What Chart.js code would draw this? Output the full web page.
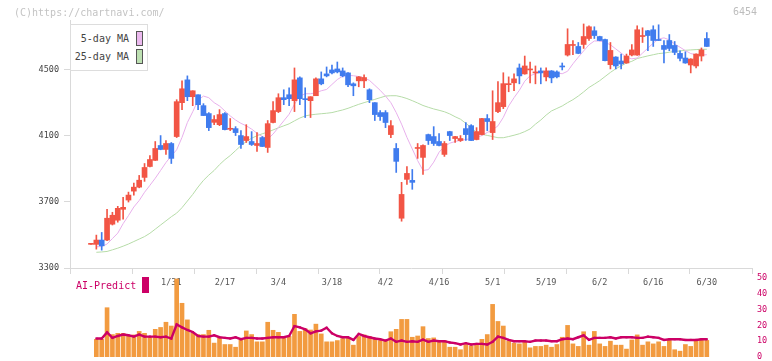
<!DOCTYPE html>
<html>
<head>
<meta charset="utf-8">
<script src="https://cdn.jsdelivr.net/npm/chart.js@4.4.1/dist/chart.umd.min.js"></script>
<style>
body{margin:0;background:#fff;width:772px;height:361px;overflow:hidden;position:relative;font-family:"DejaVu Sans Mono",monospace}
canvas{position:absolute;left:0}
#main{top:0}
#sub{top:260px}
.t{position:absolute;white-space:nowrap;font-size:10px;line-height:12px}
#legend{position:absolute;left:70px;top:24px;width:78px;height:47px;box-sizing:border-box;border:1px solid #ddd;background:#fff}
.sw{position:absolute;width:7px;box-sizing:border-box;border:1px solid #555}
</style>
</head>
<body>
<canvas id="main" width="772" height="295"></canvas>
<canvas id="sub" width="772" height="101"></canvas>

<div class="t" style="left:14px;top:7px;color:#c4c4c4">(C)https://chartnavi.com/</div>
<div class="t" style="left:733px;top:6px;color:#bdbdbd">6454</div>

<div id="legend"></div>
<div class="t" style="left:70px;top:33px;width:59px;text-align:right;color:#444">5-day MA</div>
<div class="t" style="left:70px;top:51px;width:59px;text-align:right;color:#444">25-day MA</div>
<div class="sw" style="left:136px;top:31px;height:15px;background:#ebb9ee"></div>
<div class="sw" style="left:136px;top:49px;height:15px;background:#bde0b2"></div>

<div class="t" style="left:76px;top:280px;color:#cc0066">AI-Predict</div>
<div style="position:absolute;left:142px;top:277px;width:7px;height:16px;background:#cc0066"></div>

<script>
/* DATA (one entry per trading day, 1/9 .. 6/30) */

const open=[3443,3443,3469,3469,3565,3589,3655,3711,3765,3789,
3848,3914,3951,4041,4017,4053,4095,4300,4438,4336,
4348,4282,4234,4181,4167,4234,4139,4143,4101,4071,
4065,4041,4089,4029,4180,4246,4330,4348,4312,4450,
4324,4312,4342,4444,4474,4498,4504,4492,4480,4414,
4432,4432,4378,4300,4240,4240,4107,4023,3601,3836,
3830,4023,3969,4107,4095,4065,3987,4125,4083,4071,
4143,4161,4077,4107,4204,4119,4246,4276,4409,4420,
4510,4474,4498,4480,4492,4456,4492,4486,4522,4588,
4646,4640,4652,4688,4735,4700,4682,4530,4576,4552,
4540,4588,4588,4700,4735,4741,4682,4646,4676,4646,
4598,4570,4528,4522,4582,4688]

const high=[3446,3499,3515,3655,3637,3673,3728,3759,3813,3860,
3932,3980,4065,4101,4071,4059,4318,4432,4462,4372,
4348,4294,4240,4222,4258,4240,4204,4155,4131,4167,
4125,4119,4095,4192,4306,4354,4378,4390,4510,4456,
4390,4336,4450,4486,4516,4528,4546,4510,4482,4420,
4458,4468,4384,4300,4252,4252,4192,4053,3818,3914,
3896,4053,4045,4110,4155,4113,4065,4127,4097,4101,
4180,4167,4149,4206,4228,4372,4427,4481,4456,4474,
4534,4582,4546,4522,4510,4510,4494,4492,4540,4747,
4676,4664,4776,4765,4759,4702,4684,4664,4578,4594,
4594,4652,4765,4753,4737,4765,4771,4676,4712,4670,
4614,4608,4566,4596,4631,4724]

const low=[3443,3414,3408,3465,3560,3577,3595,3699,3741,3785,
3824,3912,3950,4015,3987,3932,4089,4258,4312,4282,
4258,4222,4131,4167,4161,4135,4131,4101,4023,4059,
4041,4005,4035,3999,4178,4240,4288,4282,4246,4288,
4210,4210,4342,4408,4456,4474,4480,4456,4396,4342,
4396,4390,4300,4192,4192,4149,4089,3878,3583,3806,
3776,3963,3866,4047,4041,4039,3975,4071,4059,4065,
4071,4071,4075,4105,4131,4077,4240,4264,4366,4372,
4414,4472,4420,4414,4414,4432,4420,4450,4498,4582,
4590,4596,4628,4676,4688,4674,4552,4504,4504,4504,
4538,4582,4586,4664,4614,4640,4676,4540,4614,4590,
4552,4538,4480,4510,4552,4640]

const close=[3446,3469,3434,3601,3619,3661,3667,3741,3789,3831,
3908,3956,4023,4017,4053,3963,4306,4384,4336,4372,
4288,4222,4149,4198,4228,4137,4145,4119,4047,4095,
4047,4053,4035,4173,4252,4330,4318,4324,4438,4324,
4318,4336,4444,4414,4462,4480,4486,4462,4408,4402,
4456,4452,4318,4228,4216,4180,4161,3945,3745,3872,
3818,4029,4041,4071,4053,4041,4053,4101,4095,4083,
4107,4071,4125,4204,4186,4186,4300,4415,4415,4444,
4462,4522,4504,4486,4480,4492,4450,4456,4516,4652,
4652,4598,4700,4759,4706,4676,4554,4616,4522,4534,
4582,4619,4741,4706,4706,4676,4676,4622,4628,4604,
4568,4540,4564,4594,4619,4640]

const ma5=[null,3428,3430,3445,3478,3511,3568,3617,3669,3708,
3758,3800,3843,3890,3938,3978,4015,4090,4180,4245,
4315,4340,4330,4300,4280,4250,4220,4195,4175,4160,
4140,4115,4095,4080,4110,4150,4190,4230,4290,4340,
4354,4354,4360,4372,4380,4410,4440,4460,4465,4463,
4458,4450,4435,4405,4375,4340,4300,4240,4170,4090,
4020,3950,3890,3895,3940,4000,4035,4055,4065,4072,
4077,4083,4090,4101,4120,4135,4160,4211,4280,4330,
4375,4430,4463,4475,4485,4490,4490,4480,4475,4490,
4535,4575,4613,4650,4673,4673,4665,4650,4625,4600,
4575,4565,4570,4600,4630,4660,4685,4692,4680,4655,
4635,4615,4597,4590,4588,4590]

const ma25=[null,3395,3397,3400,3410,3420,3432,3445,3460,3475,
3490,3510,3535,3560,3585,3610,3632,3665,3705,3745,
3790,3830,3862,3890,3925,3955,3980,4010,4040,4065,
4085,4100,4112,4122,4135,4148,4160,4172,4190,4207,
4220,4226,4230,4233,4236,4240,4248,4256,4266,4278,
4290,4300,4310,4320,4330,4340,4342,4342,4335,4325,
4312,4298,4283,4272,4262,4254,4245,4232,4215,4200,
4175,4150,4120,4108,4102,4095,4088,4088,4095,4103,
4112,4125,4141,4170,4195,4225,4250,4265,4280,4300,
4318,4340,4365,4392,4412,4433,4458,4483,4505,4522,
4540,4550,4567,4575,4583,4590,4597,4600,4605,4610,
4613,4617,4619,4621,4623,4623]

const volume=[null,11.2,11.2,31.2,14.2,15,15,13.3,14,16.2,
15,13,17.5,18.7,22,19.6,49.4,34,23.5,15,
14.2,14.2,16.9,8.8,12.1,7.9,7.9,6.2,10.8,16.5,
14.2,9.6,9.6,22,16.9,15.6,13,13,27,16.2,
17.9,17.1,20.8,14.6,9.6,9.6,10.4,11.7,12.1,7.5,
13,14,13,11.7,10.4,10.4,16,17.5,23.8,23.8,
12.5,13.3,19.2,11.7,12.1,10.4,10.4,6.2,6.2,4.6,
7.9,7.1,8.3,11.2,14.2,33.3,22.5,19.6,10,8.8,
8.3,9.6,5.8,6.7,6.7,7.5,6.2,7.9,12.5,20,
8.3,6.7,16,7.5,16.2,8.3,6.7,10,7.5,7.5,
5,10.8,14,7.5,9.6,8.3,9.6,6.7,10.8,4.6,
3.7,7.9,6.7,10.4,11.5,10.5]

const aiPredict=[null,11.7,11.7,15.6,12.1,13.3,14.2,13.75,12.9,14.2,
12.9,12.9,12.9,12.5,12.9,11.7,20.6,18.75,17.1,15.8,
13.3,12.9,12.9,13.75,12.5,12.1,11.7,12.5,11.25,12.1,
12.1,11.7,11.7,12.1,12.5,12.5,12.5,13.3,19.6,18.75,
17.5,15,16.25,16.7,18.5,15,13.3,12.5,12.5,10.8,
14.6,13.3,12.5,11.7,11.25,10.4,11.7,9.6,10.4,9.6,
10,9.6,11,9.6,10.4,10,10,9.2,8.75,7.9,
8.75,7.9,8.3,8.3,7.9,9.6,12.9,12.1,10.8,10,
10,10,9.6,10.4,10.4,10.4,10,10,11.25,11.7,
11.25,12.5,13.75,10.8,12.1,12.1,12.1,12.5,11.7,12.5,
12.5,12.5,12.1,12.1,12.9,12.5,12.1,10.8,11.25,11.25,
11.25,10.8,10.8,10.8,11.25,11.25]

// date labels and the day they sit on
const dateIdx=[15,25,35,45,55,65,75,85,95,105,115]
const dateText=["1/31","2/17","3/4","3/18","4/2","4/16","5/1","5/19","6/2","6/16","6/30"]

const priceTicks=[3300,3700,4100,4500]


/* SETUP */

const UP="#f25545"
const DOWN="#407cee"
const MONO="'DejaVu Sans Mono', monospace"
const AXIS="#d9d9d9"

const xMin=-3.92
const xMax=123.44

const days=open.map((v,i)=>i)
const candleColor=days.map(i=>close[i]>=open[i]?UP:DOWN)

function pts(arr){
return days.map(i=>({x:i,y:arr[i]}))
}

const gridTicks=[]
for(let j=0;j<=11;j++) gridTicks.push({value:xMin+j*(xMax-xMin)/11})


/* PRICE CHART */

new Chart(document.getElementById("main"),{
type:"bar",
data:{
datasets:[
{
type:"bar",
data:days.map(i=>({x:i,y:[low[i],high[i]]})),
backgroundColor:candleColor,
barThickness:1,
grouped:false,
order:1
},
{
type:"bar",
data:days.map(i=>({x:i,y:[open[i],close[i]]})),
backgroundColor:candleColor,
barThickness:5,
minBarLength:1,
grouped:false,
order:0
},
{
type:"line",
data:pts(ma5),
borderColor:"#e8b0ec",
borderWidth:1,
pointRadius:0,
order:2
},
{
type:"line",
data:pts(ma25),
borderColor:"#b6dca8",
borderWidth:1,
pointRadius:0,
order:3
}
]
},
options:{
responsive:false,
animation:false,
events:[],
layout:{padding:{left:0,right:20,top:20,bottom:0}},
plugins:{legend:{display:false},tooltip:{enabled:false}},
scales:{
x:{
type:"linear",min:xMin,max:xMax,offset:false,
afterBuildTicks:s=>{s.ticks=gridTicks.map(t=>({value:t.value}))},
ticks:{display:false},
grid:{drawOnChartArea:false,tickLength:6,color:AXIS,offset:false},
border:{color:AXIS},
afterFit:s=>{s.height=8}
},
x2:{
type:"linear",position:"bottom",min:xMin,max:xMax,offset:false,
afterBuildTicks:s=>{s.ticks=dateIdx.map(v=>({value:v}))},
ticks:{
callback:(v,i)=>dateText[i],
autoSkip:false,maxRotation:0,padding:2,
color:"#555",font:{family:MONO,size:8.5}
},
grid:{display:false,drawTicks:false,offset:false},
border:{display:false},
afterFit:s=>{s.height=19}
},
y:{
min:3300,max:4800,
afterBuildTicks:s=>{s.ticks=priceTicks.map(v=>({value:v}))},
ticks:{callback:v=>String(v),padding:5,color:"#444",font:{family:MONO,size:8.5}},
grid:{drawOnChartArea:false,tickLength:6,color:AXIS},
border:{color:AXIS},
afterFit:s=>{s.width=70}
}
}
}
})


/* VOLUME + AI-PREDICT */

new Chart(document.getElementById("sub"),{
type:"bar",
data:{
datasets:[
{
type:"line",
data:pts(aiPredict),
borderColor:"#cc0066",
borderWidth:2.4,
pointRadius:1.5,
pointStyle:"rect",
pointBackgroundColor:"#cc0066",
pointBorderWidth:0,
order:0
},
{
type:"bar",
data:pts(volume),
backgroundColor:"#f29b40",
barThickness:4,
grouped:false,
order:1
}
]
},
options:{
responsive:false,
animation:false,
events:[],
layout:{padding:{left:70,right:0,top:18,bottom:3}},
plugins:{legend:{display:false},tooltip:{enabled:false}},
scales:{
x:{type:"linear",min:xMin,max:xMax,offset:false,display:false,grid:{offset:false}},
y:{
position:"right",min:0,max:50,
ticks:{stepSize:10,callback:v=>String(v),padding:5,color:"#cc0066",font:{family:MONO,size:8.5}},
grid:{display:false,drawTicks:false},
border:{display:false},
afterFit:s=>{s.width=20;s.paddingTop=0;s.paddingBottom=0}
}
}
}
})
</script>
</body>
</html>
